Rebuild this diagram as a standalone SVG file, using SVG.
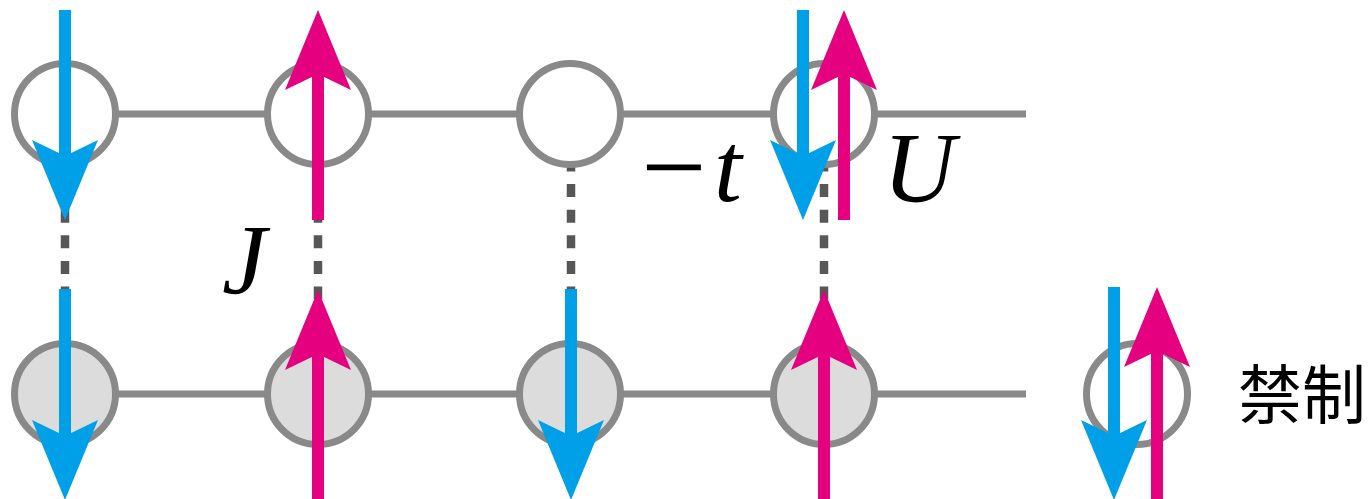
<svg xmlns="http://www.w3.org/2000/svg" width="1369" height="499" viewBox="0 0 1369 499">
<style>
.bond{stroke:#898989;stroke-width:7;fill:none}
.site{stroke:#898989;stroke-width:7;fill:#ffffff}
.site.filled{fill:#dcdcdc}
.ex{stroke:#575757;stroke-width:8.5;stroke-dasharray:13 12.6;fill:none}
.up{fill:#e4007f}
.dn{fill:#00a0e9}
.math{font-family:"Liberation Serif","Times New Roman",serif;font-style:italic;fill:#000}
.cjk{font-family:"Noto Sans CJK JP","Noto Sans CJK SC",sans-serif;fill:#000}
</style>
<defs>
<path id="headDown" d="M0,0 L-33,-80 L0,-64 L33,-80 Z"/>
<path id="headUp" d="M0,0 L33,80 L0,64 L-33,80 Z"/>
</defs>
<rect width="1369" height="499" fill="#ffffff"/>
<g id="connectors">
<line class="bond" x1="65" y1="114" x2="1026" y2="114"/>
<line class="bond" x1="65" y1="394" x2="1026" y2="394"/>
<line class="ex" x1="65" y1="158.5" x2="65" y2="300"/>
<line class="ex" x1="318" y1="158.5" x2="318" y2="300"/>
<line class="ex" x1="571" y1="158.5" x2="571" y2="300"/>
<line class="ex" x1="824" y1="158.5" x2="824" y2="300"/>
</g>
<g id="site-t1"><circle class="site" cx="65" cy="114" r="50.5"/></g>
<g id="site-t2"><circle class="site" cx="318" cy="114" r="50.5"/></g>
<g id="site-t3"><circle class="site" cx="570" cy="114" r="50.5"/></g>
<g id="site-t4"><circle class="site" cx="824" cy="114" r="50.5"/></g>
<g id="site-b1"><circle class="site filled" cx="65" cy="394" r="50.5"/></g>
<g id="site-b2"><circle class="site filled" cx="318" cy="394" r="50.5"/></g>
<g id="site-b3"><circle class="site filled" cx="570" cy="394" r="50.5"/></g>
<g id="site-b4"><circle class="site filled" cx="824" cy="394" r="50.5"/></g>
<g id="site-forbidden"><circle class="site" cx="1137" cy="394" r="50.5"/></g>
<g id="spins">
<g class="dn">
<rect x="59" y="10" width="12" height="150"/><use href="#headDown" x="65" y="220"/>
<rect x="797" y="10" width="12" height="150"/><use href="#headDown" x="803" y="220"/>
<rect x="59" y="289" width="12" height="150"/><use href="#headDown" x="65" y="500"/>
<rect x="565" y="289" width="12" height="150"/><use href="#headDown" x="571" y="500"/>
<rect x="1108" y="287" width="12" height="150"/><use href="#headDown" x="1114" y="500"/>
</g>
<g class="up">
<rect x="312" y="70" width="12" height="150"/><use href="#headUp" x="318" y="10"/>
<rect x="838" y="70" width="12" height="150"/><use href="#headUp" x="844" y="10"/>
<rect x="312" y="350" width="12" height="150"/><use href="#headUp" x="318" y="290"/>
<rect x="818" y="350" width="12" height="150"/><use href="#headUp" x="824" y="290"/>
<rect x="1151" y="347" width="12" height="153"/><use href="#headUp" x="1157" y="287"/>
</g>
</g>
<g id="labels">
<text class="math" x="222" y="293" font-size="100">J</text>
<text x="641" y="206" font-size="116" font-family="Liberation Serif, serif" fill="#000">−</text>
<text class="math" x="714" y="201" font-size="100">t</text>
<text class="math" x="883" y="201" font-size="100">U</text>
<text class="cjk" x="1238" y="418" font-size="64">禁制</text>
</g>
</svg>
